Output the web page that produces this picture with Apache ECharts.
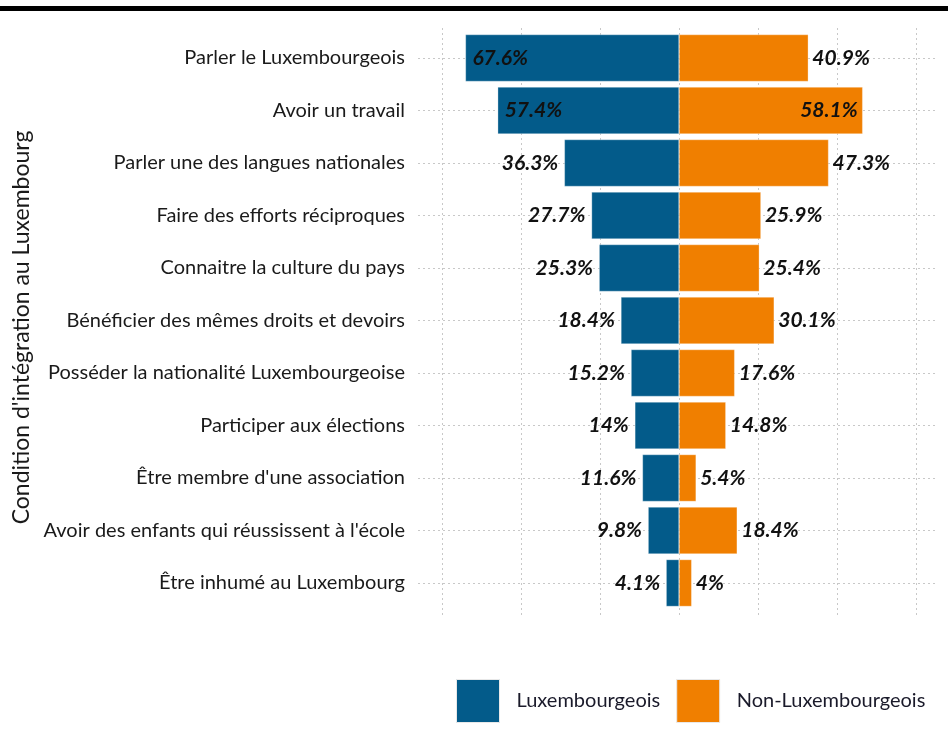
<!DOCTYPE html>
<html><head><meta charset="utf-8">
<script src="https://cdn.jsdelivr.net/npm/echarts@6/dist/echarts.min.js"></script>
<style>html,body{margin:0;padding:0;background:#fff}#c{width:948px;height:740px}</style>
</head><body><div id="c"></div>
<script>
const categories = [
  "Parler le Luxembourgeois",
  "Avoir un travail",
  "Parler une des langues nationales",
  "Faire des efforts réciproques",
  "Connaitre la culture du pays",
  "Bénéficier des mêmes droits et devoirs",
  "Posséder la nationalité Luxembourgeoise",
  "Participer aux élections",
  "Être membre d'une association",
  "Avoir des enfants qui réussissent à l'école",
  "Être inhumé au Luxembourg"
];
const luxValues = [67.6, 57.4, 36.3, 27.7, 25.3, 18.4, 15.2, 14, 11.6, 9.8, 4.1];
const nonLuxValues = [40.9, 58.1, 47.3, 25.9, 25.4, 30.1, 17.6, 14.8, 5.4, 18.4, 4];
const seriesNames = ["Luxembourgeois", "Non-Luxembourgeois"];
const axisTitle = "Condition d'intégration au Luxembourg";
const gridTicks = [-75, -50, -25, 0, 25, 50, 75];

const BLUE = '#035B8A', ORANGE = '#F07F00';
const FONT = 'Lato, "Open Sans", sans-serif';
const labelStyle = {fontFamily: FONT, fontSize: 21, fontWeight: 'bold', fontStyle: 'italic', color: '#111'};
const INSIDE_THRESHOLD = 55;

const luxData = luxValues.map(v => {
  const item = {value: -v};
  if (v > INSIDE_THRESHOLD) item.label = {position: 'insideLeft', distance: 7};
  return item;
});
const nonLuxData = nonLuxValues.map(v => {
  const item = {value: v};
  if (v > INSIDE_THRESHOLD) item.label = {position: 'insideRight', distance: 5};
  return item;
});

const chart = echarts.init(document.getElementById('c'), null, {renderer: 'canvas'});
chart.setOption({
  animation: false,
  backgroundColor: '#fff',
  graphic: [{type: 'rect', shape: {x: 0, y: 6, width: 948, height: 5}, style: {fill: '#000'}, z: 10}],
  grid: [
    {left: 442, right: 32, top: 28, bottom: 125, outerBoundsMode: 'none', containLabel: false},
    {left: 418, right: 11, top: 58, bottom: 157, outerBoundsMode: 'none', containLabel: false},
    {left: 418, right: 11, top: 31.75, height: 577.5, outerBoundsMode: 'none', containLabel: false}
  ],
  xAxis: [
    {gridIndex: 0, type: 'value', min: gridTicks[0], max: gridTicks[gridTicks.length - 1], interval: 25,
     axisLine: {show: false}, axisTick: {show: false}, axisLabel: {show: false},
     splitLine: {show: true, lineStyle: {type: [2, 3], color: '#c8c8c8', width: 1}}},
    {gridIndex: 1, type: 'value', min: 0, max: 1, show: false, splitLine: {show: false}},
    {gridIndex: 2, type: 'value', min: -82.6, max: 81.6, show: false, splitLine: {show: false}}
  ],
  yAxis: [
    {gridIndex: 0, type: 'value', min: 0, max: 1, show: false, splitLine: {show: false}},
    {gridIndex: 1, type: 'value', min: 0, max: 10, interval: 1,
     axisLine: {show: false}, axisTick: {show: false}, axisLabel: {show: false},
     splitLine: {show: true, lineStyle: {type: [2, 3], color: '#c8c8c8', width: 1}}},
    {gridIndex: 2, type: 'category', data: categories, inverse: true,
     axisLine: {show: false}, axisTick: {show: false}, splitLine: {show: false},
     axisLabel: {margin: 13, fontFamily: FONT, fontSize: 20, color: '#1a1a1a'},
     name: axisTitle, nameLocation: 'middle', nameGap: 382, nameRotate: 90,
     nameTextStyle: {fontFamily: FONT, fontSize: 23, color: '#1a1a1a', padding: [0, 14, 0, 0]}}
  ],
  legend: {
    data: seriesNames, left: 456, top: 679, orient: 'horizontal', padding: 0,
    itemWidth: 43, itemHeight: 43, itemGap: 16, icon: 'rect',
    itemStyle: {borderColor: '#e8e8e8', borderWidth: 1},
    textStyle: {fontFamily: FONT, fontSize: 20, color: '#1a1a2a', padding: [0, 0, 0, 12]}
  },
  series: [
    {name: seriesNames[0], type: 'bar', xAxisIndex: 2, yAxisIndex: 2, stack: 'all', data: luxData,
     barWidth: 47, itemStyle: {color: BLUE, borderColor: 'rgba(255,255,255,0.5)', borderWidth: 0.6},
     label: Object.assign({show: true, position: 'left', distance: 6,
       formatter: p => Math.abs(p.value) + '%'}, labelStyle)},
    {name: seriesNames[1], type: 'bar', xAxisIndex: 2, yAxisIndex: 2, stack: 'all', data: nonLuxData,
     barWidth: 47, itemStyle: {color: ORANGE, borderColor: 'rgba(255,255,255,0.5)', borderWidth: 0.6},
     label: Object.assign({show: true, position: 'right', distance: 4,
       formatter: p => Math.abs(p.value) + '%'}, labelStyle)}
  ]
});
</script></body></html>
